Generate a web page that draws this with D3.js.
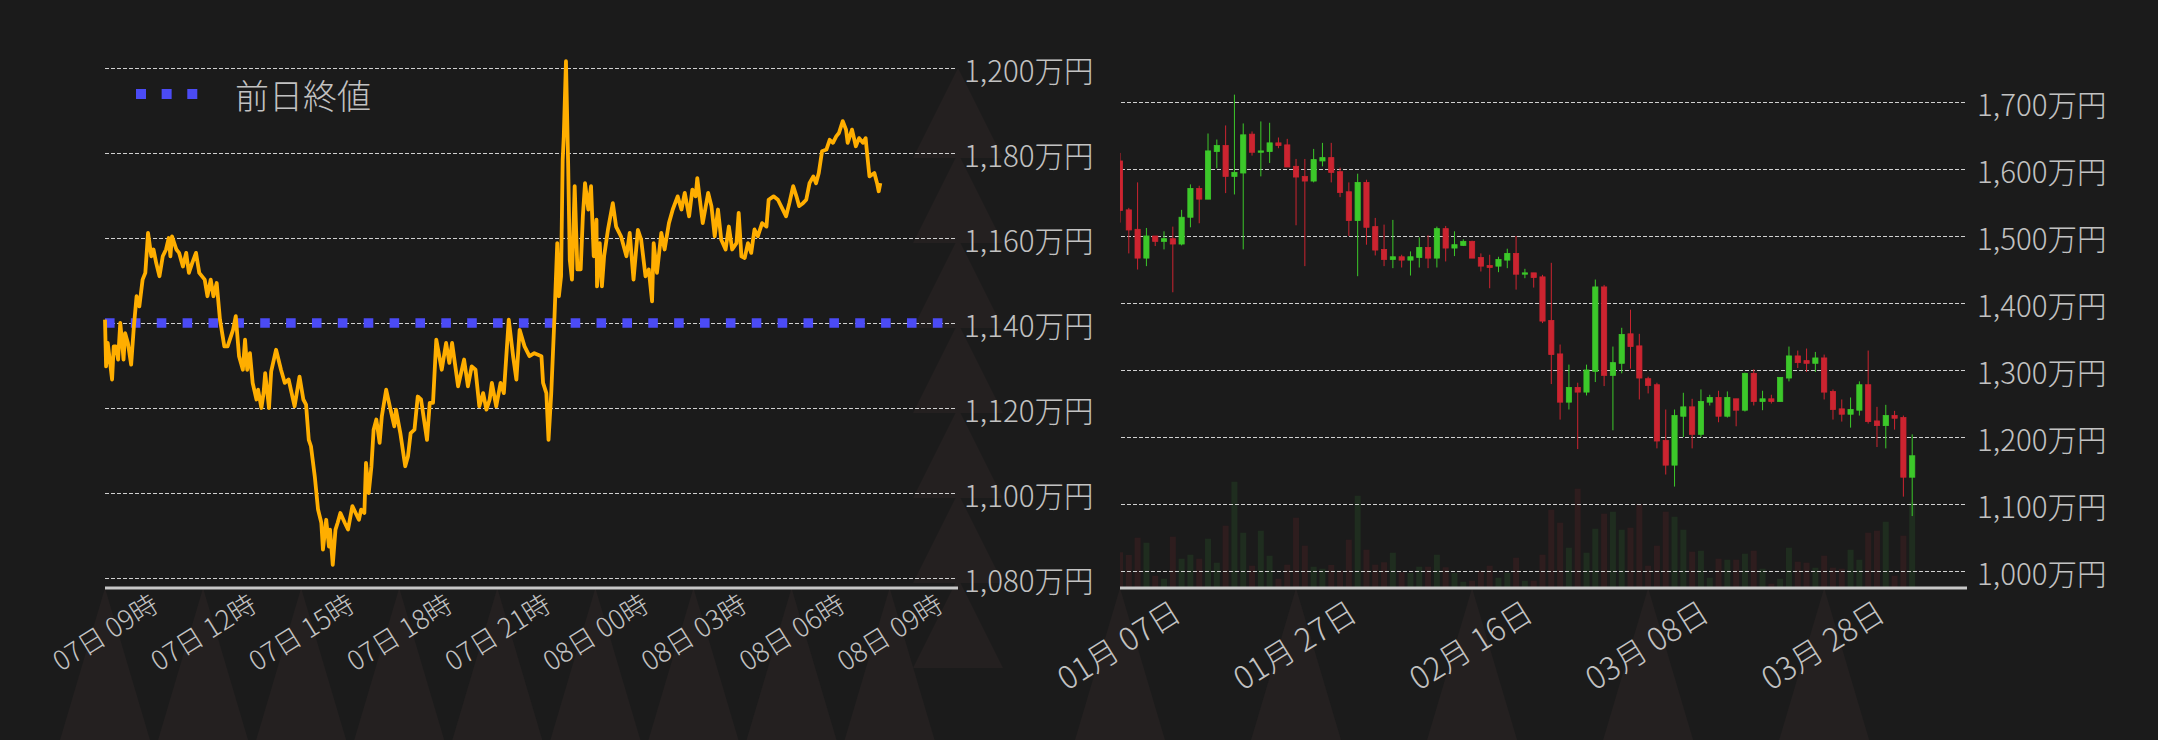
<!DOCTYPE html>
<html><head><meta charset="utf-8">
<script src="https://cdn.jsdelivr.net/npm/d3@7"></script>
<style>html,body{margin:0;padding:0;background:#1b1b1b;}svg{display:block}</style>
</head><body>
<svg id="c" width="2158" height="740"></svg>
<script>
// ---------------- DATA ----------------
// Intraday (left): minutes since 07日 09:00, price in 万円
const intradayMinutes = [0,2,5,13,16,20,24,28,31,34,37,42,48,53,58,63,69,74,79,85,89,94,100,106,112,117,120,123,131,136,143,149,154,160,167,173,183,188,194,199,205,211,219,225,235,240,246,253,257,261,266,271,278,281,287,291,294,301,305,314,323,330,337,348,357,364,369,374,378,385,391,397,400,406,411,413,418,423,427,432,440,446,454,466,470,476,479,484,489,493,498,504,508,516,524,531,534,542,551,556,561,568,574,580,591,596,602,608,618,626,632,637,648,659,666,673,680,687,694,700,706,710,718,726,732,741,749,755,761,770,779,788,801,804,810,814,819,825,830,833,837,840,842,846,850,853,857,862,867,873,877,881,887,892,897,902,903,908,912,916,923,932,938,947,957,963,970,978,984,992,998,1004,1007,1013,1021,1027,1035,1042,1051,1058,1064,1072,1078,1084,1087,1091,1097,1107,1113,1119,1125,1131,1139,1145,1151,1159,1163,1168,1174,1180,1186,1192,1198,1206,1214,1218,1227,1235,1244,1250,1256,1263,1269,1274,1281,1287,1293,1300,1305,1310,1316,1324,1330,1336,1342,1347,1354,1360,1363,1371,1378,1384,1391,1396,1398,1403,1412,1417,1420,1423];
const intradayPrices = [1140.8,1129.8,1135.3,1126.7,1134.5,1134.5,1131.4,1140.0,1136.1,1131.4,1137.6,1135.3,1130.2,1139.2,1146.3,1143.9,1150.2,1151.8,1161.2,1155.7,1157.3,1154.1,1151.0,1155.7,1157.3,1160.0,1155.7,1160.4,1157.3,1156.5,1153.3,1156.5,1151.8,1154.1,1156.5,1151.8,1150.2,1146.3,1150.2,1146.3,1149.4,1140.8,1134.5,1134.5,1138.4,1141.6,1132.2,1129.0,1136.1,1129.0,1132.9,1125.9,1122.0,1124.3,1120.0,1123.5,1128.2,1120.0,1128.6,1133.7,1129.0,1125.9,1126.7,1120.4,1127.4,1122.0,1120.8,1112.5,1111.0,1103.9,1096.1,1093.0,1086.7,1093.7,1087.4,1091.4,1083.1,1091.4,1093.0,1095.3,1093.0,1091.4,1096.9,1093.7,1096.1,1095.3,1107.1,1100.0,1106.3,1114.9,1117.3,1111.8,1118.0,1124.3,1119.6,1115.7,1119.6,1114.1,1106.3,1108.6,1114.1,1114.9,1122.7,1122.0,1112.5,1121.2,1121.2,1136.1,1129.0,1135.3,1130.6,1135.3,1125.1,1131.4,1125.1,1129.8,1129.0,1120.4,1123.5,1119.6,1122.0,1125.9,1120.4,1125.9,1123.5,1140.8,1132.2,1126.7,1138.4,1134.5,1132.2,1132.9,1132.2,1125.9,1123.5,1112.5,1123.5,1141.6,1158.8,1146.3,1151.0,1178.4,1183.9,1201.6,1177.6,1154.9,1150.2,1172.2,1152.6,1152.6,1165.1,1172.9,1166.7,1172.2,1155.7,1164.3,1148.6,1158.8,1148.6,1155.7,1161.9,1168.2,1162.7,1160.4,1155.7,1161.2,1150.2,1161.9,1159.6,1151.0,1152.6,1145.1,1158.8,1151.8,1161.2,1157.3,1163.5,1166.7,1169.8,1166.7,1170.6,1165.1,1171.4,1169.8,1174.1,1169.8,1163.5,1170.6,1167.5,1160.4,1166.7,1159.6,1157.3,1162.7,1157.3,1158.8,1165.9,1155.7,1155.3,1158.8,1156.5,1162.0,1160.4,1163.5,1162.7,1169.0,1169.8,1169.0,1166.7,1165.1,1168.2,1172.2,1169.8,1167.5,1168.2,1169.0,1172.9,1174.5,1172.9,1175.3,1180.4,1180.8,1183.1,1182.4,1183.9,1184.7,1187.5,1185.5,1182.4,1185.5,1181.6,1183.5,1182.4,1183.5,1180.8,1174.5,1175.3,1172.9,1171.0,1172.9];
const prevClose = 1140;
const leftYTicks = [1080,1100,1120,1140,1160,1180,1200];
const leftXTicks = ["2025-04-07T09:00","2025-04-07T12:00","2025-04-07T15:00","2025-04-07T18:00","2025-04-07T21:00","2025-04-08T00:00","2025-04-08T03:00","2025-04-08T06:00","2025-04-08T09:00"];
const leftXDomain = ["2025-04-07T09:00","2025-04-08T11:00"];
const legendLabel = "前日終値";

// Daily candles (right), 万円
const candleDates = ["01-07","01-08","01-09","01-10","01-11","01-12","01-13","01-14","01-15","01-16","01-17","01-18","01-19","01-20","01-21","01-22","01-23","01-24","01-25","01-26","01-27","01-28","01-29","01-30","01-31",
"02-01","02-02","02-03","02-04","02-05","02-06","02-07","02-08","02-09","02-10","02-11","02-12","02-13","02-14","02-15","02-16","02-17","02-18","02-19","02-20","02-21","02-22","02-23","02-24","02-25","02-26","02-27","02-28",
"03-01","03-02","03-03","03-04","03-05","03-06","03-07","03-08","03-09","03-10","03-11","03-12","03-13","03-14","03-15","03-16","03-17","03-18","03-19","03-20","03-21","03-22","03-23","03-24","03-25","03-26","03-27","03-28","03-29","03-30","03-31",
"04-01","04-02","04-03","04-04","04-05","04-06","04-07"];
const opens  = [1612,1539,1510,1467,1500,1492,1496,1488,1528,1571,1555,1626,1635,1589,1594,1652,1625,1626,1639,1636,1604,1589,1582,1612,1617,1596,1566,1523,1580,1514,1480,1465,1469,1464,1468,1483,1467,1511,1482,1486,1492,1468,1456,1455,1464,1474,1443,1445,1439,1374,1324,1252,1274,1267,1298,1424,1292,1310,1354,1336,1287,1278,1195,1158,1231,1245,1204,1252,1259,1231,1257,1240,1295,1253,1257,1253,1288,1321,1314,1310,1318,1268,1242,1234,1240,1278,1224,1217,1232,1229,1140];
const highs  = [1624,1542,1580,1512,1500,1507,1514,1539,1577,1575,1653,1644,1665,1711,1668,1656,1671,1669,1647,1645,1615,1615,1630,1639,1639,1602,1580,1593,1584,1527,1517,1524,1472,1477,1498,1501,1514,1515,1507,1495,1493,1474,1472,1469,1481,1500,1451,1445,1442,1460,1338,1308,1281,1308,1435,1427,1335,1363,1390,1354,1290,1281,1241,1241,1266,1257,1271,1263,1269,1268,1257,1296,1301,1269,1263,1289,1335,1329,1332,1327,1323,1271,1256,1259,1283,1329,1245,1248,1239,1232,1204];
const lows   = [1520,1474,1450,1455,1485,1480,1416,1486,1513,1519,1555,1601,1564,1562,1480,1620,1589,1609,1631,1603,1516,1455,1580,1604,1580,1558,1500,1440,1487,1471,1455,1452,1453,1441,1453,1452,1453,1462,1470,1485,1467,1447,1422,1446,1452,1420,1437,1423,1370,1279,1226,1241,1182,1262,1282,1276,1210,1295,1302,1256,1265,1183,1144,1126,1200,1183,1200,1247,1222,1229,1216,1238,1247,1240,1250,1253,1283,1303,1297,1297,1256,1226,1223,1214,1232,1220,1185,1183,1211,1111,1082];
const closes = [1538,1509,1467,1500,1492,1496,1488,1528,1571,1555,1627,1635,1589,1595,1651,1625,1627,1639,1635,1603,1588,1582,1614,1617,1595,1565,1523,1580,1513,1479,1465,1469,1464,1469,1483,1467,1511,1482,1487,1492,1467,1455,1453,1465,1474,1443,1445,1438,1373,1323,1252,1274,1267,1300,1424,1292,1311,1353,1335,1288,1277,1194,1158,1232,1245,1204,1253,1259,1231,1259,1240,1295,1253,1257,1253,1289,1321,1311,1310,1318,1267,1241,1234,1241,1278,1223,1217,1232,1228,1140,1172];
const volumes = [357,330,503,453,123,93,513,293,333,293,493,253,623,1063,553,223,573,323,93,233,703,423,213,193,230,173,483,923,383,233,257,353,157,150,213,213,333,207,150,63,73,173,223,103,153,303,73,73,333,783,653,403,993,353,593,743,763,583,603,840,223,423,763,713,583,363,373,103,293,283,283,343,373,193,43,93,403,263,253,203,323,203,193,383,283,553,573,663,123,523,857];
const rightYTicks = [1000,1100,1200,1300,1400,1500,1600,1700];
const rightXTicks = ["2025-01-07","2025-01-27","2025-02-16","2025-03-08","2025-03-28"];
const rightXDomain = ["2025-01-07","2025-04-13"];

// ---------------- DRAW ----------------
const svg = d3.select("#c");
const FONT = "'Noto Sans CJK JP','Noto Sans',sans-serif";
const TXT = "#c2c2c2";
const BG = "#1b1b1b";
const DECO = "#242020";
svg.append("rect").attr("width",2158).attr("height",740).attr("fill",BG);

const parseT = d3.timeParse("%Y-%m-%dT%H:%M");
const parseD = d3.utcParse("%Y-%m-%d");

// Left scales
const L = {x0:105, x1:955, base:588};
const xL = d3.scaleTime().domain(leftXDomain.map(parseT)).range([L.x0, L.x1]);
const yL = d3.scaleLinear().domain([1080,1200]).range([578,68]);
const t0 = parseT(leftXDomain[0]);

// Right scales
const R = {x0:1120, x1:1965, base:588};
const xR = d3.scaleUtc().domain(rightXDomain.map(parseD)).range([R.x0, R.x1]);
const yR = d3.scaleLinear().domain([1000,1700]).range([571,102]);
const yV = d3.scaleLinear().domain([0,1000]).range([R.base, R.base-100]);

// Decorative faint triangles (tick decorations)
const deco = svg.append("g").attr("fill",DECO);
leftYTicks.forEach(v => {
  const y = yL(v);
  deco.append("path").attr("d", `M${L.x1+3},${y} L${L.x1+48},${y+90} L${L.x1-42},${y+90} Z`);
});
leftXTicks.forEach(s => {
  const x = xL(parseT(s));
  deco.append("path").attr("d", `M${x},${L.base} L${x+45},740 L${x-45},740 Z`);
});
rightXTicks.forEach(s => {
  const x = xR(parseD(s));
  deco.append("path").attr("d", `M${x},${R.base} L${x+45},740 L${x-45},740 Z`);
});

// Left gridlines + labels via axis
const gLY = svg.append("g").attr("transform",`translate(${L.x1},0)`)
  .call(d3.axisRight(yL).tickValues(leftYTicks).tickSize(-(L.x1-L.x0)).tickPadding(9)
        .tickFormat(d => d3.format(",")(d) + "万円"));
gLY.select(".domain").remove();
gLY.selectAll("line").attr("stroke","#d0d0d0").attr("stroke-width",1).attr("stroke-dasharray","4 2");
gLY.selectAll("text").attr("fill",TXT).attr("font-family",FONT).attr("font-weight",300).attr("font-size",29.5).attr("dy","0.45em");

// Left x axis
const gLX = svg.append("g").attr("transform",`translate(0,${L.base})`)
  .call(d3.axisBottom(xL).tickValues(leftXTicks.map(parseT)).tickSize(0).tickFormat(d3.timeFormat("%d日 %H時")));
gLX.select(".domain").attr("stroke","#c8c8c8").attr("stroke-width",3).attr("d",`M${L.x0},0H${L.x1+3}`);
gLX.selectAll("text").attr("fill",TXT).attr("font-family",FONT).attr("font-weight",300).attr("font-size",27)
  .attr("text-anchor","middle").attr("y",0).attr("dy",0)
  .attr("transform","translate(-1,43) rotate(-32)").attr("dominant-baseline","central");

// Previous close line
const blue = "#4b4bf5";
svg.append("line").attr("x1",L.x0).attr("x2",L.x1).attr("y1",yL(prevClose)).attr("y2",yL(prevClose))
  .attr("stroke",blue).attr("stroke-width",9.5).attr("stroke-dasharray","9.6 16.27");

// Intraday line
const pts = intradayMinutes.map((m,i)=>({t:d3.timeMinute.offset(t0,m), v:intradayPrices[i]}));
svg.append("path").datum(pts)
  .attr("fill","none").attr("stroke","#ffae00").attr("stroke-width",3.8).attr("stroke-linejoin","round")
  .attr("d", d3.line().x(d=>xL(d.t)).y(d=>yL(d.v)));

// Legend
svg.append("line").attr("x1",136).attr("x2",198).attr("y1",94).attr("y2",94)
  .attr("stroke",blue).attr("stroke-width",10).attr("stroke-dasharray","10 15.65");
svg.append("text").attr("x",235).attr("y",94).attr("dominant-baseline","central")
  .attr("fill",TXT).attr("font-family",FONT).attr("font-weight",300).attr("font-size",34).text(legendLabel);

// Right chart
svg.append("clipPath").attr("id","rclip").append("rect")
  .attr("x",R.x0).attr("y",0).attr("width",R.x1-R.x0).attr("height",R.base);

const candles = candleDates.map((d,i)=>({t:parseD("2025-"+d), o:opens[i], h:highs[i], l:lows[i], c:closes[i], v:volumes[i]}));
const up = "#3cc82a", dn = "#cc2430";
const upV = "#1f2d1f", dnV = "#2e1d1e";
const bw = 5.2;

const gR = svg.append("g").attr("clip-path","url(#rclip)");
gR.selectAll("rect.vol").data(candles).join("rect").attr("class","vol")
  .attr("x",d=>xR(d.t)-3).attr("width",6)
  .attr("y",d=>yV(d.v)).attr("height",d=>R.base-yV(d.v))
  .attr("fill",d=>d.c>=d.o?upV:dnV);

const gRY = svg.append("g").attr("transform",`translate(${R.x1},0)`)
  .call(d3.axisRight(yR).tickValues(rightYTicks).tickSize(-(R.x1-R.x0)).tickPadding(12)
        .tickFormat(d => d3.format(",")(d) + "万円"));
gRY.select(".domain").remove();
gRY.selectAll("line").attr("stroke","#d0d0d0").attr("stroke-width",1).attr("stroke-dasharray","4 2");
gRY.selectAll("text").attr("fill",TXT).attr("font-family",FONT).attr("font-weight",300).attr("font-size",29.5).attr("dy","0.45em");

const gC = svg.append("g").attr("clip-path","url(#rclip)");
gC.selectAll("line.wick").data(candles).join("line").attr("class","wick")
  .attr("x1",d=>xR(d.t)).attr("x2",d=>xR(d.t))
  .attr("y1",d=>yR(d.h)).attr("y2",d=>yR(d.l))
  .attr("stroke",d=>d.c>=d.o?up:dn).attr("stroke-width",1);
gC.selectAll("rect.body").data(candles).join("rect").attr("class","body")
  .attr("x",d=>xR(d.t)-bw/2).attr("width",bw)
  .attr("y",d=>yR(Math.max(d.o,d.c))).attr("height",d=>Math.max(1,Math.abs(yR(d.o)-yR(d.c))))
  .attr("fill",d=>d.c>=d.o?up:dn).attr("stroke",d=>d.c>=d.o?up:dn).attr("stroke-width",0.8);

const gRX = svg.append("g").attr("transform",`translate(0,${R.base})`)
  .call(d3.axisBottom(xR).tickValues(rightXTicks.map(parseD)).tickSize(0).tickFormat(d3.utcFormat("%m月 %d日")));
gRX.select(".domain").attr("stroke","#c8c8c8").attr("stroke-width",3).attr("d",`M${R.x0},0H${R.x1+2}`);
gRX.selectAll("text").attr("fill",TXT).attr("font-family",FONT).attr("font-weight",300).attr("font-size",31.5)
  .attr("text-anchor","middle").attr("y",0).attr("dy",0)
  .attr("transform","translate(-3,55) rotate(-32)").attr("dominant-baseline","central");
</script>
</body></html>
